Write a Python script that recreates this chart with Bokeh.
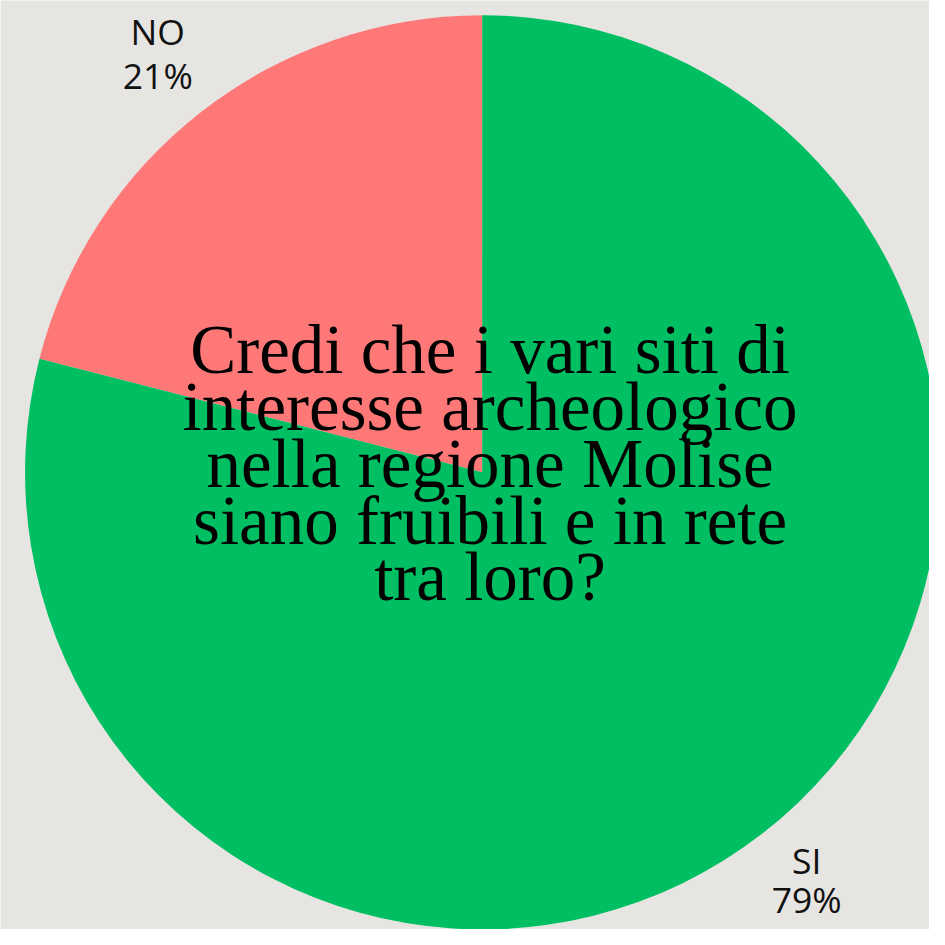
import math
from bokeh.plotting import figure
from bokeh.models import Range1d, ColumnDataSource
from bokeh.core.properties import value
from bokeh.embed import file_html
from bokeh.resources import INLINE

# ---- data ----
categories = ["NO", "SI"]
percentages = [21, 79]
slice_colors = ["#ff7878", "#00bf63"]
pct_labels = ["21%", "79%"]
title_lines = [
    "Credi che i vari siti di",
    "interesse archeologico",
    "nella regione Molise",
    "siano fruibili e in rete",
    "tra loro?",
]

# ---- figure in screen-like coordinates (y = -screen_y) ----
W = H = 929
p = figure(width=W, height=H, output_backend="svg", toolbar_location=None,
           x_range=Range1d(0, 945), y_range=Range1d(-945, 0),
           min_border=0)
p.axis.visible = False
p.grid.visible = False
p.outline_line_color = None
p.background_fill_color = "#e7e5e2"
p.border_fill_color = "#e7e5e2"

cx, cy, r = 490, -480, 465

# wedges: start at 12 o'clock, go counter-clockwise
total = sum(percentages)
starts, ends = [], []
acc = math.pi / 2
for v in percentages:
    starts.append(acc)
    acc += 2 * math.pi * v / total
    ends.append(acc)

src = ColumnDataSource(dict(cat=categories, val=percentages, start=starts,
                            end=ends, color=slice_colors))
p.wedge(x=cx, y=cy, radius=r, start_angle="start", end_angle="end",
        fill_color="color", line_color=None, source=src)

# slice labels
lab_x = [160, 820]
name_y = [-31, -874]
pct_y = [-76, -914]
lab_src = ColumnDataSource(dict(x=lab_x, y1=name_y, y2=pct_y,
                                name=categories, pct=pct_labels))
for ycol, tcol in (("y1", "name"), ("y2", "pct")):
    p.text(x="x", y=ycol, text=tcol, source=lab_src,
           text_font=value("Open Sans"), text_font_size="35.5px",
           text_align="center", text_baseline="alphabetic",
           text_color="#111111")

# central question
t_y = [-356, -414, -471, -529, -586]
p.text(x=[498] * len(title_lines), y=t_y, text=title_lines,
       text_font=value("Liberation Serif"), text_font_size="69px",
       text_align="center", text_baseline="alphabetic",
       text_color="#000000")

open("out.html", "w").write(file_html(p, INLINE))
